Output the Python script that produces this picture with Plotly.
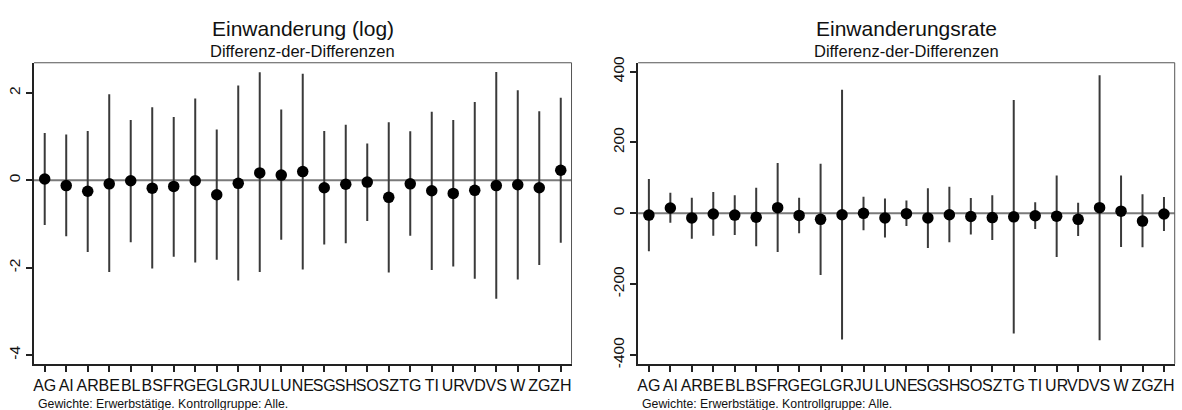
import plotly.graph_objects as go

cats = ["AG","AI","AR","BE","BL","BS","FR","GE","GL","GR","JU","LU","NE",
        "SG","SH","SO","SZ","TG","TI","UR","VD","VS","W","ZG","ZH"]

# Left panel: Einwanderung (log)
log_est = [0.03,-0.12,-0.25,-0.08,-0.01,-0.18,-0.14,-0.01,-0.33,-0.07,0.17,0.12,0.20,
           -0.17,-0.09,-0.04,-0.39,-0.08,-0.24,-0.30,-0.23,-0.12,-0.10,-0.17,0.23]
log_hi = [1.08,1.05,1.13,1.97,1.38,1.67,1.45,1.87,1.16,2.17,2.47,1.62,2.44,
          1.13,1.27,0.84,1.33,1.12,1.57,1.38,1.79,2.48,2.06,1.58,1.89]
log_lo = [-1.02,-1.28,-1.64,-2.10,-1.42,-2.02,-1.75,-1.88,-1.82,-2.29,-2.10,-1.36,-2.04,
          -1.47,-1.44,-0.93,-2.11,-1.27,-2.05,-1.97,-2.25,-2.71,-2.27,-1.94,-1.43]

# Right panel: Einwanderungsrate
rate_est = [-5,15,-13,-2,-5,-11,16,-6,-17,-4,0,-13,-1,
            -13,-4,-9,-12,-10,-7,-8,-17,16,6,-22,-2]
rate_hi = [97,58,44,60,51,72,142,44,140,349,47,42,36,
           71,75,43,51,320,31,107,30,390,107,54,46]
rate_lo = [-107,-27,-72,-63,-61,-93,-109,-56,-174,-356,-48,-68,-36,
           -98,-82,-60,-75,-339,-44,-123,-64,-358,-95,-96,-50]

yticks_left = [-4,-2,0,2]
yticks_right = [-400,-200,0,200,400]

titles = ["Einwanderung (log)", "Einwanderungsrate"]
subtitle = "Differenz-der-Differenzen"
note = "Gewichte: Erwerbstätige. Kontrollgruppe: Alle."

W, H = 1182, 410
FONT = "Liberation Sans, Arial, sans-serif"

fig = go.Figure()

def add_panel(est, hi, lo, xa, ya):
    idx = list(range(len(cats)))
    fig.add_trace(go.Scatter(
        x=idx, y=est, mode="markers", xaxis=xa, yaxis=ya,
        marker=dict(color="black", size=11.5),
        error_y=dict(type="data", symmetric=False,
                     array=[h - e for h, e in zip(hi, est)],
                     arrayminus=[e - l for e, l in zip(est, lo)],
                     color="#3a3a3a", thickness=2, width=0),
        showlegend=False, hoverinfo="skip"))

add_panel(log_est, log_hi, log_lo, "x", "y")
add_panel(rate_est, rate_hi, rate_lo, "x2", "y2")

ytop = 1 - 57.3 / H
ybot = 1 - 366.7 / H
dom1 = [33 / W, 571 / W]
dom2 = [637.7 / W, 1174.7 / W]

xcommon = dict(tickmode="array", tickvals=list(range(len(cats))), ticktext=cats,
               range=[-0.5, 24.5], showgrid=False, zeroline=False, tickangle=0,
               showline=True, linecolor="#222", linewidth=2,
               ticks="outside", ticklen=6, tickwidth=1.5, tickcolor="#222",
               tickfont=dict(family=FONT, size=16, color="#111"))
ycommon = dict(showgrid=False, zeroline=False, showline=True, linecolor="#222",
               linewidth=2, ticks="outside", ticklen=6, tickwidth=1.5, tickcolor="#222",
               tickangle=-90, tickfont=dict(family=FONT, size=15.5, color="#111"))

fig.update_layout(
    width=W, height=H, margin=dict(l=0, r=0, t=0, b=0),
    paper_bgcolor="white", plot_bgcolor="white",
    xaxis=dict(domain=dom1, anchor="y", **xcommon),
    yaxis=dict(domain=[ybot, ytop], anchor="x", range=[-4.2, 2.69],
               tickvals=yticks_left, ticktext=[str(v) for v in yticks_left], **ycommon),
    xaxis2=dict(domain=dom2, anchor="y2", **xcommon),
    yaxis2=dict(domain=[ybot, ytop], anchor="x2", range=[-425, 425],
                tickvals=yticks_right, ticktext=[str(v) for v in yticks_right], **ycommon),
)

shapes = []
for xr, yr in [("x", "y"), ("x2", "y2")]:
    shapes.append(dict(type="line", xref=f"{xr} domain", yref=yr, x0=0, x1=1, y0=0, y1=0,
                       line=dict(color="#7a7a7a", width=2), layer="below"))
    shapes.append(dict(type="line", xref=f"{xr} domain", yref=f"{yr} domain",
                       x0=0, x1=1, y0=1, y1=1, line=dict(color="#555", width=1)))
    shapes.append(dict(type="line", xref=f"{xr} domain", yref=f"{yr} domain",
                       x0=1, x1=1, y0=0, y1=1, line=dict(color="#555", width=1)))
fig.update_layout(shapes=shapes)

annots = []
for dom, t in zip([dom1, dom2], titles):
    cx = (dom[0] + dom[1]) / 2
    annots.append(dict(text=t, x=cx, y=1 - 22 / H, xref="paper", yref="paper",
                       showarrow=False, font=dict(family=FONT, size=21, color="#111"),
                       xanchor="center", yanchor="middle"))
    annots.append(dict(text=subtitle, x=cx, y=1 - 45 / H, xref="paper", yref="paper",
                       showarrow=False, font=dict(family=FONT, size=16.5, color="#111"),
                       xanchor="center", yanchor="middle"))
    annots.append(dict(text=note, x=dom[0] + 2 / W, y=1 - 408 / H, xref="paper", yref="paper",
                       showarrow=False, font=dict(family=FONT, size=12.3, color="#111"),
                       xanchor="left", yanchor="middle"))
fig.update_layout(annotations=annots)

fig.write_html("out.html")
